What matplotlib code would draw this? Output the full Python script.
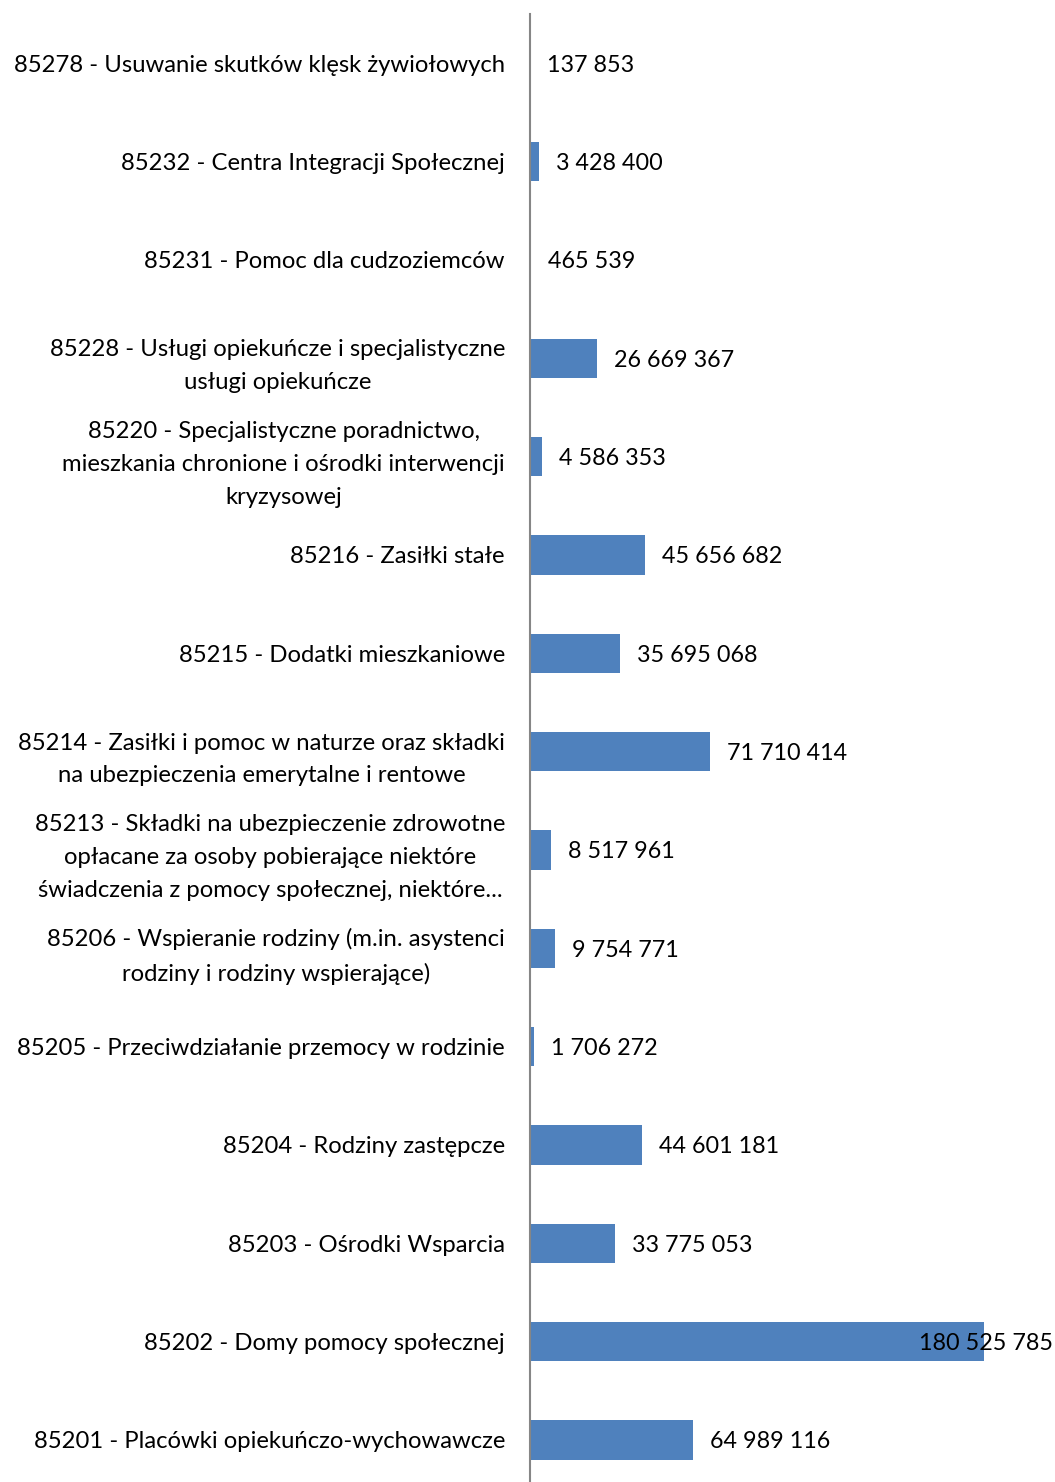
import matplotlib
matplotlib.use("Agg")
import matplotlib.pyplot as plt

categories = [
    "85278 - Usuwanie skutków klęsk żywiołowych",
    "85232 - Centra Integracji Społecznej",
    "85231 - Pomoc dla cudzoziemców",
    "85228 - Usługi opiekuńcze i specjalistyczne\nusługi opiekuńcze",
    "85220 - Specjalistyczne poradnictwo,\nmieszkania chronione i ośrodki interwencji\nkryzysowej",
    "85216 - Zasiłki stałe",
    "85215 - Dodatki mieszkaniowe",
    "85214 - Zasiłki i pomoc w naturze oraz składki\nna ubezpieczenia emerytalne i rentowe",
    "85213 - Składki na ubezpieczenie zdrowotne\nopłacane za osoby pobierające niektóre\nświadczenia z pomocy społecznej, niektóre...",
    "85206 - Wspieranie rodziny (m.in. asystenci\nrodziny i rodziny wspierające)",
    "85205 - Przeciwdziałanie przemocy w rodzinie",
    "85204 - Rodziny zastępcze",
    "85203 - Ośrodki Wsparcia",
    "85202 - Domy pomocy społecznej",
    "85201 - Placówki opiekuńczo-wychowawcze",
]
values = [137853, 3428400, 465539, 26669367, 4586353, 45656682, 35695068,
          71710414, 8517961, 9754771, 1706272, 44601181, 33775053,
          180525785, 64989116]

plt.rcParams['font.family'] = ['Lato', 'DejaVu Sans']

fig = plt.figure(figsize=(10.55, 14.82), dpi=100)
ax = fig.add_axes([530 / 1055, -7 / 1482, 525 / 1055, 1475 / 1482])

pos = list(range(len(values)))
ax.barh(pos, values, height=0.4, color="#4F81BD")
ax.set_ylim(len(values) - 0.5, -0.5)
ax.set_xlim(0, 208.7e6)

ax.set_yticks(pos)
ax.set_yticklabels(categories, fontsize=17.2, multialignment="center", linespacing=1.7)
ax.tick_params(axis="y", length=0, pad=18, colors="black")
ax.set_xticks([])
for side in ["top", "right", "bottom"]:
    ax.spines[side].set_visible(False)
ax.spines["left"].set_color("#868686")
ax.spines["left"].set_linewidth(1.5)

labels = []
for p, v in zip(pos, values):
    s = f"{v:,}".replace(",", " ")
    t = ax.annotate(s, (v, p), xytext=(17, -2), textcoords="offset pixels",
                    va="center", ha="left", fontsize=16.8, annotation_clip=False)
    labels.append(t)

# keep value labels inside the figure, like Excel does
fig.canvas.draw()
r = fig.canvas.get_renderer()
W = fig.bbox.width
for t in labels:
    bb = t.get_window_extent(r)
    if bb.x1 > W - 2:
        ox, oy = t.xyann
        t.xyann = (ox - (bb.x1 - (W - 2)), oy)

fig.savefig("out.png", dpi=100)
